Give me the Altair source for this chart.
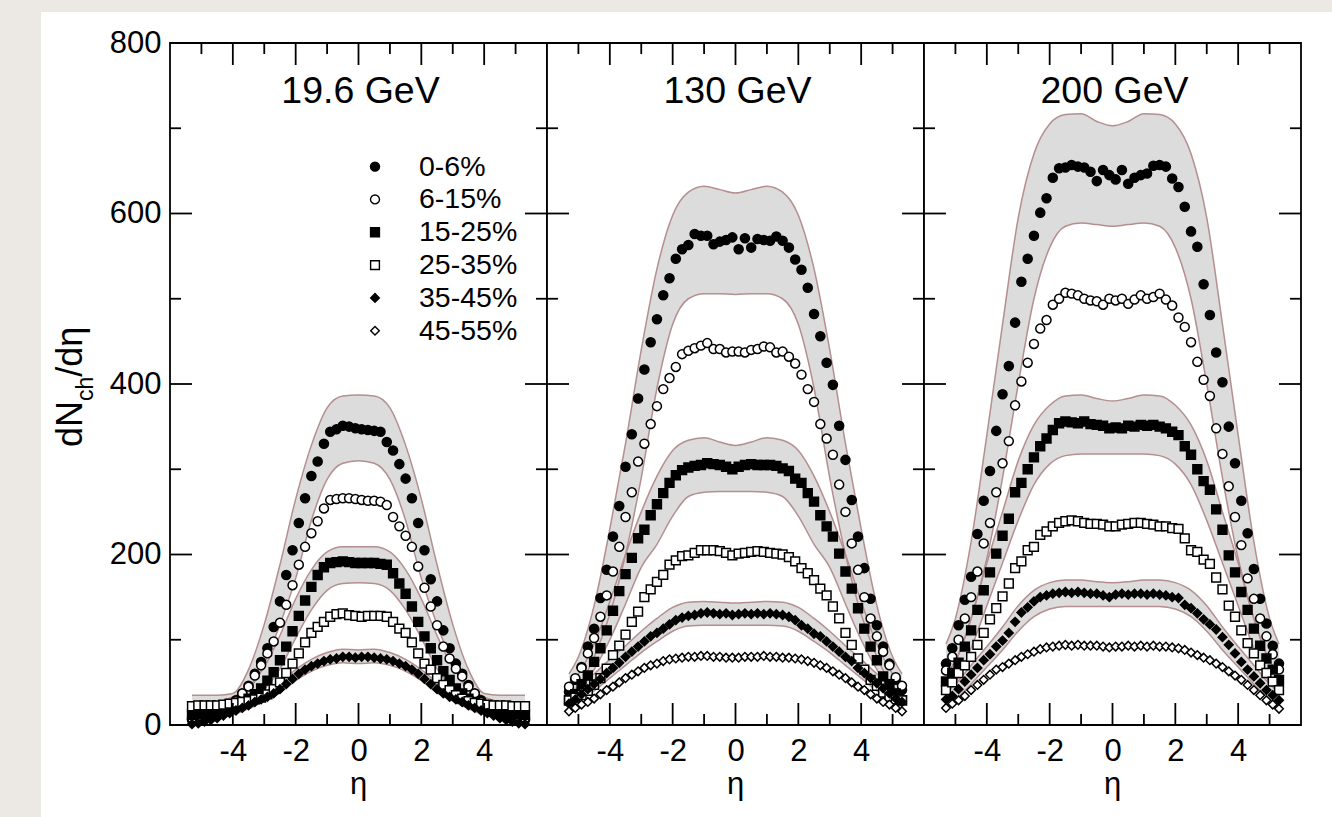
import altair as alt
import pandas as pd

FONT = "Liberation Sans"
W, H = 377, 682

ETA = [-5.3, -5.1, -4.9, -4.7, -4.5, -4.3, -4.1, -3.9, -3.7, -3.5, -3.3, -3.1, -2.9, -2.7,
       -2.5, -2.3, -2.1, -1.9, -1.7, -1.5, -1.3, -1.1, -0.9, -0.7, -0.5, -0.3, -0.1,
       0.1, 0.3, 0.5, 0.7, 0.9, 1.1, 1.3, 1.5, 1.7, 1.9, 2.1, 2.3, 2.5, 2.7, 2.9, 3.1,
       3.3, 3.5, 3.7, 3.9, 4.1, 4.3, 4.5, 4.7, 4.9, 5.1, 5.3]
BAND_ETA = [-5.3, -5.0, -4.5, -4.0, -3.5, -3.0, -2.5, -2.0, -1.5, -1.0, -0.5, 0.0,
            0.5, 1.0, 1.5, 2.0, 2.5, 3.0, 3.5, 4.0, 4.5, 5.0, 5.3]

CENTRALITY = ["0-6%", "6-15%", "15-25%", "25-35%", "35-45%", "45-55%"]
SHAPES = ["circle", "circle", "square", "square", "diamond", "diamond"]
FILLS = ["black", "white", "black", "white", "black", "white"]
SIZES = [82, 74, 62, 56, 78, 62]
PANEL_TITLES = ["19.6 GeV", "130 GeV", "200 GeV"]

X_LABELS = [-4, -2, 0, 2, 4]
X_MAJOR = [-4, -2, 0, 2, 4]
X_MINOR = [-5, -3, -1, 1, 3, 5]
Y_LABELS = [0, 200, 400, 600, 800]
Y_MAJOR = [200, 400, 600]
Y_MINOR = [100, 300, 500, 700]

# ---- 19.6 GeV ----
P1_0_6 = [6, 7, 9, 11, 14, 18, 23, 29, 37, 46, 60, 74, 90, 115, 145, 176, 205, 237, 266, 292, 309, 330, 344, 347, 351, 350, 348,
          347, 346, 345, 344, 332, 322, 306, 289, 266, 237, 205, 171, 145, 111, 90, 72, 60, 47, 37, 29, 23, 18, 14, 11, 9, 7, 6]
P1_6_15 = [8, 10, 12, 14, 16, 18, 22, 28, 37, 45, 58, 70, 84, 98, 120, 141, 164, 188, 209, 225, 239, 254, 264, 265, 266, 266, 265,
           264, 263, 263, 262, 258, 244, 233, 222, 209, 186, 161, 139, 117, 92, 78, 66, 57, 45, 37, 27, 22, 18, 16, 14, 12, 10, 8]
P1_15_25 = [12, 13, 14, 15, 17, 19, 21, 24, 27, 31, 36, 43, 52, 62, 76, 92, 110, 128, 146, 162, 176, 185, 190, 191, 192, 191, 190,
            190, 190, 190, 189, 188, 178, 166, 154, 139, 121, 104, 90, 76, 63, 53, 43, 37, 31, 27, 24, 21, 19, 17, 15, 14, 13, 12]
P1_25_35 = [22, 23, 23, 23, 23, 24, 25, 26, 27, 28, 30, 32, 36, 42, 50, 61, 72, 84, 97, 108, 115, 121, 127, 130, 131, 129, 128,
            127, 128, 128, 128, 127, 121, 113, 108, 97, 84, 72, 65, 55, 47, 41, 35, 31, 28, 26, 25, 24, 23, 23, 23, 22, 22, 22]
P1_35_45 = [1, 2, 4, 6, 8, 11, 14, 17, 20, 23, 27, 30, 33, 37, 42, 48, 54, 60, 65, 69, 72, 75, 77, 78, 80, 80, 79,
            80, 80, 79, 78, 77, 75, 72, 69, 65, 60, 54, 48, 42, 37, 33, 30, 27, 23, 20, 17, 14, 11, 8, 6, 4, 2, 1]

# ---- 130 GeV ----
P2_0_6 = [39, 53, 68, 92, 113, 149, 182, 221, 257, 303, 341, 383, 417, 449, 476, 504, 524, 547, 558, 563, 576, 574, 574, 564, 567, 569, 572,
          558, 571, 560, 570, 569, 568, 573, 568, 560, 546, 534, 513, 482, 456, 425, 399, 351, 311, 264, 221, 184, 148, 117, 92, 72, 53, 41]
P2_6_15 = [45, 55, 67, 84, 102, 127, 152, 180, 209, 244, 273, 309, 330, 353, 374, 394, 407, 420, 435, 439, 442, 445, 448, 441, 441, 437, 438,
           438, 437, 440, 441, 444, 443, 437, 438, 432, 424, 411, 394, 379, 353, 336, 317, 282, 250, 213, 182, 150, 125, 104, 86, 70, 56, 46]
P2_15_25 = [29, 36, 48, 58, 74, 90, 111, 134, 157, 177, 196, 219, 229, 246, 259, 272, 284, 293, 299, 302, 304, 305, 307, 306, 305, 303, 300,
            303, 305, 306, 305, 305, 305, 304, 301, 298, 289, 284, 272, 262, 246, 233, 221, 201, 180, 160, 137, 113, 92, 76, 57, 48, 37, 29]
P2_25_35 = [29, 32, 35, 40, 47, 55, 66, 82, 93, 106, 121, 133, 150, 159, 168, 176, 188, 193, 198, 199, 202, 205, 205, 205, 204, 202, 199,
            201, 202, 203, 204, 203, 202, 201, 200, 197, 192, 184, 178, 170, 160, 152, 139, 125, 108, 94, 78, 65, 53, 46, 38, 33, 30, 29]
P2_35_45 = [25, 30, 36, 42, 48, 54, 61, 67, 73, 80, 86, 92, 98, 104, 108, 113, 118, 123, 126, 128, 129, 131, 132, 131, 130, 131, 129,
            130, 131, 130, 131, 130, 131, 130, 129, 127, 123, 117, 113, 107, 104, 98, 92, 86, 80, 75, 67, 61, 55, 49, 43, 37, 31, 27]
P2_45_55 = [16, 20, 24, 27, 31, 36, 41, 45, 50, 55, 59, 63, 67, 70, 72, 75, 77, 78, 79, 80, 80, 81, 81, 80, 80, 79, 79,
            79, 80, 80, 80, 81, 80, 80, 79, 79, 78, 77, 75, 73, 70, 67, 63, 59, 55, 50, 45, 41, 36, 31, 27, 24, 20, 16]

# ---- 200 GeV ----
P3_0_6 = [72, 90, 117, 147, 174, 224, 263, 298, 345, 388, 421, 472, 520, 547, 574, 601, 618, 642, 653, 654, 657, 655, 654, 649, 638, 651, 645,
          640, 651, 635, 642, 645, 647, 656, 657, 655, 641, 631, 608, 579, 561, 517, 481, 437, 402, 350, 307, 263, 225, 183, 148, 119, 93, 72]
P3_6_15 = [64, 80, 100, 125, 150, 180, 213, 237, 273, 307, 333, 375, 403, 425, 447, 465, 475, 493, 500, 507, 506, 504, 500, 498, 497, 493, 500,
           498, 500, 494, 499, 504, 500, 502, 506, 499, 492, 478, 467, 449, 426, 405, 386, 348, 318, 280, 244, 211, 172, 148, 125, 104, 83, 65]
P3_15_25 = [51, 61, 73, 92, 111, 135, 158, 179, 201, 222, 242, 273, 284, 300, 314, 327, 336, 346, 354, 356, 355, 354, 356, 353, 352, 351, 348,
            349, 348, 351, 350, 352, 351, 352, 350, 348, 344, 340, 327, 317, 300, 286, 276, 253, 229, 199, 179, 156, 135, 113, 93, 78, 65, 53]
P3_25_35 = [41, 50, 61, 70, 80, 94, 108, 124, 137, 151, 166, 184, 192, 205, 209, 223, 227, 233, 237, 239, 240, 239, 237, 236, 236, 235, 233,
            233, 235, 236, 237, 237, 236, 235, 233, 233, 231, 230, 219, 205, 203, 194, 189, 173, 159, 140, 127, 111, 96, 84, 70, 61, 51, 41]
P3_35_45 = [30, 34, 42, 51, 59, 67, 76, 83, 92, 99, 108, 121, 132, 138, 145, 150, 152, 154, 155, 156, 155, 156, 155, 154, 154, 152, 150,
            153, 154, 153, 154, 154, 153, 154, 153, 152, 150, 149, 141, 137, 131, 124, 118, 112, 103, 94, 84, 74, 65, 57, 49, 41, 35, 29]
P3_45_55 = [20, 25, 29, 34, 41, 47, 53, 59, 65, 68, 72, 76, 80, 83, 86, 89, 91, 92, 93, 94, 93, 94, 93, 93, 93, 92, 91,
            92, 92, 93, 92, 93, 92, 93, 92, 92, 91, 90, 88, 85, 82, 79, 76, 72, 68, 63, 58, 53, 47, 41, 35, 29, 24, 19]

# ---- model bands (lower, upper) ----
P1_A_LO = [8, 11, 17, 25, 40, 72, 118, 172, 240, 288, 307, 310, 307, 288, 240, 172, 118, 72, 40, 25, 17, 11, 8]
P1_A_HI = [35, 35, 35, 37, 65, 118, 188, 265, 328, 372, 386, 387, 386, 372, 328, 265, 188, 118, 65, 37, 35, 35, 35]
P1_B_LO = [10, 12, 15, 20, 28, 42, 66, 102, 135, 158, 166, 167, 166, 158, 135, 102, 66, 42, 28, 20, 15, 12, 10]
P1_B_HI = [24, 24, 27, 33, 45, 68, 105, 148, 182, 203, 209, 209, 209, 203, 182, 148, 105, 68, 45, 33, 27, 24, 24]
P1_C_LO = [2, 3, 7, 12, 19, 28, 38, 52, 63, 70, 73, 72, 73, 70, 63, 52, 38, 28, 19, 12, 7, 3, 2]
P1_C_HI = [7, 9, 14, 20, 28, 38, 50, 65, 77, 85, 89, 88, 89, 85, 77, 65, 50, 38, 28, 20, 14, 9, 7]

P2_A_LO = [35, 45, 80, 130, 200, 290, 395, 470, 500, 506, 506, 505, 506, 506, 500, 470, 395, 290, 200, 130, 80, 45, 35]
P2_A_HI = [60, 80, 140, 230, 330, 440, 535, 598, 625, 632, 628, 624, 628, 632, 625, 598, 535, 440, 330, 230, 140, 80, 60]
P2_B_LO = [28, 38, 65, 100, 142, 185, 212, 245, 268, 273, 274, 274, 274, 273, 268, 245, 212, 185, 142, 100, 65, 38, 28]
P2_B_HI = [48, 60, 95, 145, 200, 250, 292, 322, 334, 337, 332, 328, 332, 337, 334, 322, 292, 250, 200, 145, 95, 60, 48]
P2_C_LO = [22, 28, 40, 55, 70, 85, 98, 110, 116, 117, 117, 117, 117, 117, 116, 110, 98, 85, 70, 55, 40, 28, 22]
P2_C_HI = [38, 45, 60, 77, 93, 110, 125, 138, 144, 145, 144, 143, 144, 145, 144, 138, 125, 110, 93, 77, 60, 45, 38]

P3_A_LO = [60, 75, 125, 195, 290, 400, 500, 560, 585, 589, 587, 585, 587, 589, 585, 560, 500, 400, 290, 195, 125, 75, 60]
P3_A_HI = [95, 125, 215, 340, 470, 595, 670, 705, 716, 717, 708, 703, 708, 717, 716, 705, 670, 595, 470, 340, 215, 125, 95]
P3_B_LO = [40, 50, 90, 140, 190, 240, 282, 306, 316, 318, 318, 318, 318, 318, 316, 306, 282, 240, 190, 140, 90, 50, 40]
P3_B_HI = [60, 75, 125, 190, 250, 310, 352, 375, 386, 387, 383, 380, 383, 387, 386, 375, 352, 310, 250, 190, 125, 75, 60]
P3_C_LO = [22, 30, 48, 68, 88, 110, 127, 136, 139, 139, 139, 139, 139, 139, 139, 136, 127, 110, 88, 68, 48, 30, 22]
P3_C_HI = [38, 48, 70, 92, 115, 140, 158, 167, 170, 170, 168, 167, 168, 170, 170, 167, 158, 140, 115, 92, 70, 48, 38]

PANELS = [
    dict(series=[P1_0_6, P1_6_15, P1_15_25, P1_25_35, P1_35_45, None],
         bands=[(P1_A_LO, P1_A_HI), (P1_B_LO, P1_B_HI), (P1_C_LO, P1_C_HI)]),
    dict(series=[P2_0_6, P2_6_15, P2_15_25, P2_25_35, P2_35_45, P2_45_55],
         bands=[(P2_A_LO, P2_A_HI), (P2_B_LO, P2_B_HI), (P2_C_LO, P2_C_HI)]),
    dict(series=[P3_0_6, P3_6_15, P3_15_25, P3_25_35, P3_35_45, P3_45_55],
         bands=[(P3_A_LO, P3_A_HI), (P3_B_LO, P3_B_HI), (P3_C_LO, P3_C_HI)]),
]

BAND_FILL = "#dcdcdc"
BAND_LINE = "#b58e8e"
PAGE_BG = "#ece9e5"

xscale = alt.Scale(domain=[-6, 6], nice=False, zero=False)
yscale = alt.Scale(domain=[0, 800], nice=False, zero=False)
shape_scale = alt.Scale(domain=CENTRALITY, range=SHAPES)
fill_scale = alt.Scale(domain=CENTRALITY, range=FILLS)
size_scale = alt.Scale(domain=CENTRALITY, range=SIZES)

X_AXIS = alt.Axis(values=X_LABELS, ticks=False, domain=False, grid=False,
                  labelFont=FONT, labelFontSize=31, labelColor="black",
                  labelBaseline="alphabetic", labelPadding=35, labelFlush=False,
                  labelOverlap=False, title=None, zindex=2,
                  labelExpr="datum.value < 0 ? '-' + (-datum.value) : '' + datum.value")
Y_AXIS = alt.Axis(values=Y_LABELS, ticks=False, domain=False, grid=False,
                  labelFont=FONT, labelFontSize=31, labelColor="black",
                  labelBaseline="middle", labelPadding=9, labelFlush=False,
                  labelOverlap=False, title=None, zindex=2)


def xenc(field):
    return alt.X(field, type="quantitative", scale=xscale, axis=X_AXIS)


def yenc(field, axis):
    if axis is None:
        return alt.Y(field, type="quantitative", scale=yscale, axis=None)
    return alt.Y(field, type="quantitative", scale=yscale, axis=axis)


ONE = alt.Data(values=[{}])


def build_panel(i):
    spec = PANELS[i]
    yaxis = Y_AXIS if i == 0 else None
    rows = []
    for name, vals in zip(CENTRALITY, spec["series"]):
        if vals is None:
            continue
        for e, v in zip(ETA, vals):
            rows.append({"eta": e, "val": v, "cent": name})
    pts = pd.DataFrame(rows)
    brows = []
    for k, (lo, hi) in enumerate(spec["bands"]):
        for e, l, h in zip(BAND_ETA, lo, hi):
            brows.append({"eta": e, "lo": l, "hi": h, "band": "b%d" % k})
    bdf = pd.DataFrame(brows)

    if i == 0:
        bx, bx2 = -129, W
    elif i == 1:
        bx, bx2 = 0, W
    else:
        bx, bx2 = 0, W + 31
    bg = alt.Chart(ONE).mark_rect(fill="white", strokeWidth=0).encode(
        x=alt.value(bx), x2=alt.value(bx2), y=alt.value(-31), y2=alt.value(H + 92))

    area = alt.Chart(bdf).mark_area(fill=BAND_FILL, opacity=1, interpolate="monotone").encode(
        x=xenc("eta"), y=yenc("lo", yaxis), y2=alt.Y2("hi"), detail="band:N")
    line_hi = alt.Chart(bdf).mark_line(color=BAND_LINE, strokeWidth=1.5, interpolate="monotone").encode(
        x=xenc("eta"), y=yenc("hi", yaxis), detail="band:N")
    line_lo = alt.Chart(bdf).mark_line(color=BAND_LINE, strokeWidth=1.5, interpolate="monotone").encode(
        x=xenc("eta"), y=yenc("lo", yaxis), detail="band:N")

    points = alt.Chart(pts).mark_point(filled=True, stroke="black", strokeWidth=1.5, opacity=1).encode(
        x=xenc("eta"), y=yenc("val", yaxis),
        shape=alt.Shape("cent:N", scale=shape_scale, legend=None),
        fill=alt.Fill("cent:N", scale=fill_scale, legend=None),
        size=alt.Size("cent:O", scale=size_scale, legend=None))

    tick_layers = []
    for vals, ln in ((X_MAJOR, 22), (X_MINOR, 11)):
        d = pd.DataFrame({"t": vals})
        tick_layers.append(alt.Chart(d).mark_rule(color="black", strokeWidth=1.8).encode(
            x=xenc("t"), y=alt.value(H), y2=alt.value(H - ln)))
        tick_layers.append(alt.Chart(d).mark_rule(color="black", strokeWidth=1.8).encode(
            x=xenc("t"), y=alt.value(0), y2=alt.value(ln)))
    for vals, ln in ((Y_MAJOR, 22), (Y_MINOR, 11)):
        d = pd.DataFrame({"t": vals})
        tick_layers.append(alt.Chart(d).mark_rule(color="black", strokeWidth=1.8).encode(
            y=yenc("t", yaxis), x=alt.value(0), x2=alt.value(ln)))
        tick_layers.append(alt.Chart(d).mark_rule(color="black", strokeWidth=1.8).encode(
            y=yenc("t", yaxis), x=alt.value(W), x2=alt.value(W - ln)))

    frame = alt.Chart(ONE).mark_rect(fillOpacity=0, stroke="black", strokeWidth=1.8).encode(
        x=alt.value(0), x2=alt.value(W), y=alt.value(0), y2=alt.value(H))

    title = alt.Chart(ONE).mark_text(text=PANEL_TITLES[i], font=FONT, fontSize=37.5, align="center",
                                     baseline="alphabetic", color="black").encode(
        x=alt.value(W / 2 + 2), y=alt.value(60))
    xtitle = alt.Chart(ONE).mark_text(text="η", font=FONT, fontSize=31, align="center",
                                      baseline="alphabetic", color="black").encode(
        x=alt.value(W / 2), y=alt.value(751))

    layers = [bg, area, line_hi, line_lo, points] + tick_layers + [frame, title, xtitle]

    if i == 0:
        ldf = pd.DataFrame({"cent": CENTRALITY, "k": list(range(len(CENTRALITY)))})
        base = alt.Chart(ldf).transform_calculate(ly="655 - 38.5 * datum.k")
        lpts = base.mark_point(filled=True, stroke="black", strokeWidth=1.4, opacity=1).encode(
            x=alt.value(205), y=yenc("ly", yaxis),
            shape=alt.Shape("cent:N", scale=shape_scale, legend=None),
            fill=alt.Fill("cent:N", scale=fill_scale, legend=None),
            size=alt.Size("cent:O", scale=size_scale, legend=None))
        ltxt = base.mark_text(font=FONT, fontSize=28.5, align="left", baseline="middle", color="black").encode(
            x=alt.value(249), y=yenc("ly", yaxis), text="cent:N")
        yl1 = alt.Chart(ONE).mark_text(text="dN", font=FONT, fontSize=36, angle=270, align="left",
                                       baseline="alphabetic", color="black").encode(
            x=alt.value(-88), y=alt.value(404))
        yl2 = alt.Chart(ONE).mark_text(text="ch", font=FONT, fontSize=23, angle=270, align="left",
                                       baseline="alphabetic", color="black").encode(
            x=alt.value(-77), y=alt.value(358))
        yl3 = alt.Chart(ONE).mark_text(text="/dη", font=FONT, fontSize=36, angle=270, align="left",
                                       baseline="alphabetic", color="black").encode(
            x=alt.value(-88), y=alt.value(333.7))
        layers += [lpts, ltxt, yl1, yl2, yl3]

    return alt.layer(*layers).properties(width=W, height=H)


chart = alt.hconcat(build_panel(0), build_panel(1), build_panel(2), spacing=0, bounds="flush").properties(
    background=PAGE_BG,
    padding={"left": 41, "top": 12, "right": 0, "bottom": 0},
).configure_view(strokeWidth=0)

chart.save("out.html", embed_options={"renderer": "svg", "actions": False})
